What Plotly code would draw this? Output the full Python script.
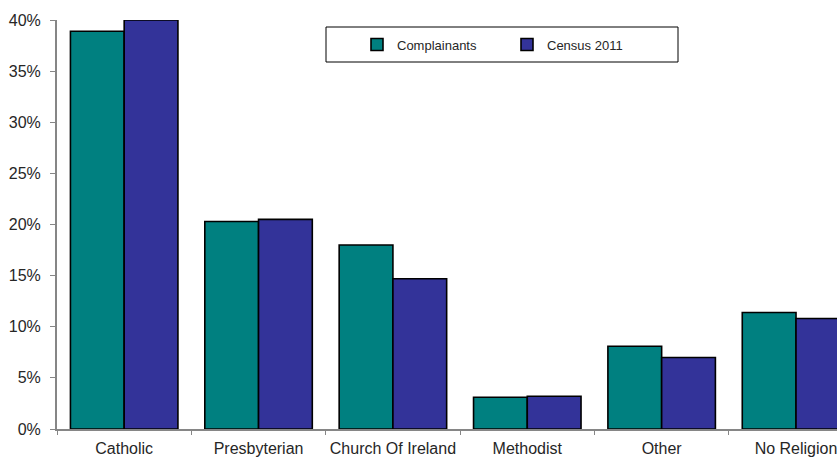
import plotly.graph_objects as go

# Religious background of complainants vs. 2011 census (percent)
categories = ["Catholic", "Presbyterian", "Church Of Ireland", "Methodist", "Other", "No Religion"]
complainants = [38.9, 20.3, 18.0, 3.1, 8.1, 11.4]
census_2011 = [40.0, 20.5, 14.7, 3.2, 7.0, 10.8]
y_ticks = [0, 5, 10, 15, 20, 25, 30, 35, 40]
y_tick_labels = [f"{v}%" for v in y_ticks]

TEAL = "#008080"
PURPLE = "#333399"
AXIS_GREY = "#868686"
FONT = "Liberation Sans, Arial, sans-serif"

fig = go.Figure()
fig.add_trace(go.Bar(
    name="Complainants", x=categories, y=complainants,
    marker=dict(color=TEAL, line=dict(color="black", width=1.6)),
))
fig.add_trace(go.Bar(
    name="Census 2011", x=categories, y=census_2011,
    marker=dict(color=PURPLE, line=dict(color="black", width=1.6)),
))

W, H = 837, 457
L, R, T, B = 57, 0, 20, 28
pw, ph = W - L - R, H - T - B


def px_x(x):
    return (x - L) / pw


def px_y(y):
    return (H - B - y) / ph


fig.update_layout(
    width=W, height=H,
    margin=dict(l=L, r=R, t=T, b=B, pad=0, autoexpand=False),
    paper_bgcolor="white", plot_bgcolor="white",
    barmode="group", bargap=0.2, bargroupgap=0,
    font=dict(family=FONT, size=16, color="#262626"),
    showlegend=True,
    legend=dict(
        orientation="h", x=px_x(357), y=px_y(44.5), xanchor="left", yanchor="middle",
        font=dict(family=FONT, size=13, color="#262626"),
        bgcolor="rgba(0,0,0,0)", borderwidth=0,
        entrywidth=105, traceorder="normal",
    ),
    xaxis=dict(
        type="category", range=[-0.5, 5.305], automargin=False,
        showline=True, linecolor=AXIS_GREY, linewidth=2,
        ticks="outside", tickson="boundaries", ticklen=4, tickcolor=AXIS_GREY, tickwidth=1,
        tickangle=0, ticklabelstandoff=4,
        showgrid=False, zeroline=False,
        tickfont=dict(size=16, color="#262626"),
    ),
    yaxis=dict(
        range=[0, 40], tickvals=y_ticks, ticktext=y_tick_labels, automargin=False,
        showline=True, linecolor=AXIS_GREY, linewidth=2,
        ticks="outside", ticklen=5, tickcolor=AXIS_GREY, tickwidth=1,
        ticklabelstandoff=6,
        showgrid=False, zeroline=False,
        tickfont=dict(size=16, color="#262626"),
    ),
    shapes=[dict(
        type="rect", xref="paper", yref="paper",
        x0=px_x(326), x1=px_x(678), y0=px_y(62), y1=px_y(27),
        line=dict(color="black", width=1), fillcolor="rgba(0,0,0,0)", layer="above",
    )],
)

fig.write_html("out.html")
